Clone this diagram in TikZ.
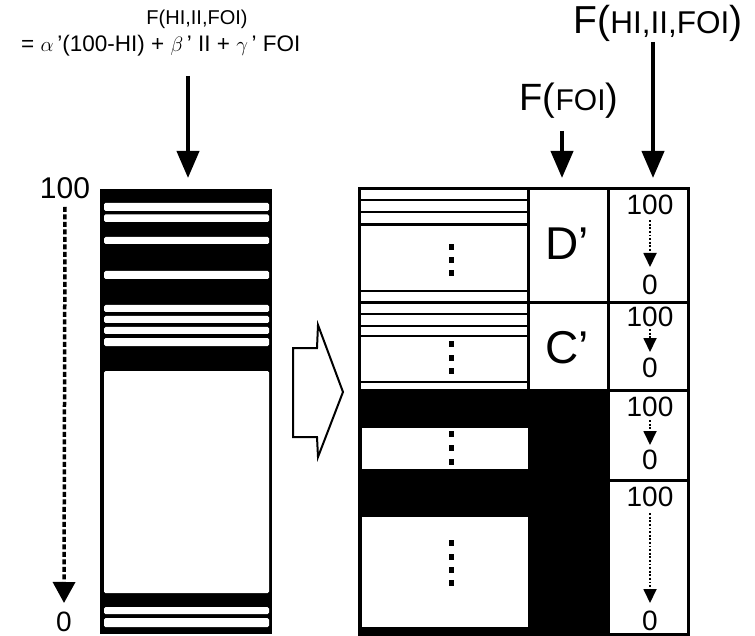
\documentclass[tikz,border=0pt]{standalone}
\usepackage{fontspec}
\setmainfont{Liberation Sans}
\usetikzlibrary{arrows.meta}
\newcommand{\fs}[1]{\fontsize{#1}{#1}\selectfont}
\begin{document}
\begin{tikzpicture}[x=1pt,y=-1pt,
  bigarrow/.style={line width=4pt,-{Triangle[length=27pt,width=22pt]}},
  dasharrow/.style={line width=3.5pt,dash pattern=on 5pt off 2.5pt,-{Triangle[length=21pt,width=22pt]}},
  dotarrow/.style={line width=1.8pt,dash pattern=on 1.8pt off 1.8pt,-{Triangle[length=14pt,width=13pt]}},
  num/.style={font=\fs{28},inner sep=0pt},
  lbl/.style={inner sep=0pt},
  frame/.style={line width=3pt},
  thin/.style={line width=2.2pt}]
\useasboundingbox (0,0) rectangle (755,636);

% ---- top-left formula
\node[lbl,font=\fs{20}] (f1) at (197,19) {F(HI,II,FOI)};
\node[lbl,font=\fs{22.5},anchor=west] (f2) at (21,46) {= $\alpha$\,’(100-HI) + $\beta$\,’ II + $\gamma$\,’ FOI};
\coordinate (a1s) at (188,76);
\coordinate (a1e) at (188,178);
\draw[bigarrow] (a1s) -- (a1e);

% ---- left bar
\fill[black] (100,189) rectangle (272,634);
\foreach \a/\b in {203/211,214.5/222,237/244,271/279,305/312,316/323,327/334,338/346,371/593,607/614,618/627}
  \fill[white,rounded corners=1.5pt] (104,\a) rectangle (269,\b);

% ---- left dashed arrow
\node[lbl,font=\fs{30}] (l100) at (65,188) {100};
\node[lbl,font=\fs{28}] (l0) at (64,622) {0};
\draw[dasharrow] (l100.south) ++(0,8) coordinate (ls) -- (64,603) coordinate (le);

% ---- hollow arrow
\draw[line width=2pt,line join=miter] (293,348) -- (317,348) -- (318,325) -- (343,392) -- (318,457) -- (317,437) -- (293,437) -- cycle;

% ---- right block
\fill[black] (359,389) rectangle (608,634);
\fill[white] (362,428) rectangle (528,469);
\fill[white] (362,517) rectangle (528,627);
\foreach \y in {200,212,224.5,291,314,326,336,382}
  \draw[thin] (359,\y) -- (528,\y);
\draw[frame] (359,189) rectangle (688,634);
\draw[frame] (528,189) -- (528,390);
\draw[frame] (608,189) -- (608,634);
\draw[frame] (359,303) -- (688,303);
\draw[frame] (608,390) -- (688,390);
\draw[frame] (608,480) -- (688,480);
\foreach \y in {247,260,273,344,358,371,434,448,462,543,557,570,583}
  \fill[black] (448.5,\y-3) rectangle (453.5,\y+3);

\node[lbl,font=\fs{46}] (dp) at (567,244) {D’};
\node[lbl,font=\fs{46}] (cp) at (567,348) {C’};

\node[num] (r1a) at (650,205) {100};
\node[num] (r1b) at (650,285) {0};
\node[num] (r2a) at (650,317) {100};
\node[num] (r2b) at (650,368) {0};
\node[num] (r3a) at (650,407) {100};
\node[num] (r3b) at (650,460) {0};
\node[num] (r4a) at (650,497) {100};
\node[num] (r4b) at (650,621) {0};
\draw[dotarrow] (r1a.south) ++(0,5) -- (650,267);
\draw[dotarrow] (r2a.south) ++(0,2) -- (650,352);
\draw[dotarrow] (r3a.south) ++(0,3) -- (650,445);
\draw[dotarrow] (r4a.south) ++(0,6) -- (650,603);

% ---- top-right labels
\node[lbl] (ffoi) at (569,101) {\fs{38}F(\fs{30}FOI\fs{38})};
\node[lbl] (fall) at (658,23) {\fs{39}F(\fs{31.5}HI,II,FOI\fs{39})};
\coordinate (a2s) at (562,131);
\coordinate (a2e) at (562,178);
\draw[bigarrow] (a2s) -- (a2e);
\coordinate (a3s) at (653,42);
\coordinate (a3e) at (653,178);
\draw[bigarrow] (a3s) -- (a3e);
\end{tikzpicture}
\end{document}
